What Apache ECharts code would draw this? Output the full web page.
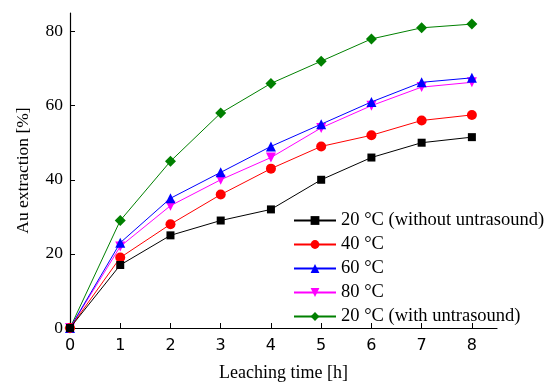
<!DOCTYPE html>
<html>
<head>
<meta charset="utf-8">
<script src="https://cdn.jsdelivr.net/npm/echarts@6/dist/echarts.min.js"></script>
<style>html,body{margin:0;padding:0;background:#fff}#c{width:553px;height:384px}</style>
</head>
<body>
<div id="c"></div>
<script>
const hours = [0, 1, 2, 3, 4, 5, 6, 7, 8];
const names = ['20 °C (without untrasound)', '40 °C', '60 °C', '80 °C', '20 °C (with untrasound)'];
const s20 = [0, 17, 25, 29, 32, 40, 46, 50, 51.5];
const s40 = [0, 19, 28, 36, 43, 49, 52, 56, 57.5];
const s60 = [0, 23, 35, 42, 49, 55, 61, 66.3, 67.5];
const s80 = [0, 22, 33, 40, 46, 54, 60, 65, 66.3];
const s20us = [0, 29, 45, 58, 66, 72, 78, 81, 82];
const xTicks = [0, 1, 2, 3, 4, 5, 6, 7, 8];
const yTicks = [0, 20, 40, 60, 80];

const seriesData = [s20, s40, s60, s80, s20us];
const colors = ['#000000', '#ff0000', '#0000ff', '#ff00ff', '#008000'];
const symbols = ['rect', 'circle', 'triangle', 'path://M0,0 L10,0 L5,10 Z', 'diamond'];
const sizes = [8, 10, 10, 10, 11];

const chart = echarts.init(document.getElementById('c'));
const serif = 'Liberation Serif';
chart.setOption({
  animation: false,
  grid: { left: 70, right: 56, top: 13, bottom: 56, containLabel: false, outerBoundsMode: 'none' },
  legend: {
    orient: 'vertical', left: 288, top: 206, itemWidth: 42, itemHeight: 11, itemGap: 5,
    textStyle: { fontFamily: serif, fontSize: 18.5, color: '#000' },
    data: names
  },
  xAxis: {
    type: 'value', min: 0, max: 8.5, interval: 1,
    name: 'Leaching time [h]', nameLocation: 'middle', nameGap: 36,
    nameTextStyle: { fontFamily: serif, fontSize: 18, color: '#000' },
    axisLine: { lineStyle: { color: '#000', width: 1.2 } },
    axisTick: { inside: true, length: 5, customValues: xTicks, lineStyle: { color: '#000' } },
    axisLabel: { customValues: xTicks, fontFamily: 'DejaVu Sans', fontSize: 16, color: '#000', margin: 10 },
    splitLine: { show: false }
  },
  yAxis: {
    type: 'value', min: 0, max: 85, interval: 20,
    name: 'Au extraction [%]', nameLocation: 'middle', nameGap: 38,
    nameTextStyle: { fontFamily: serif, fontSize: 17.5, color: '#000' },
    axisLine: { show: true, lineStyle: { color: '#000', width: 1.2 } },
    axisTick: { show: true, inside: true, length: 5, customValues: yTicks, lineStyle: { color: '#000' } },
    axisLabel: { customValues: yTicks, fontFamily: serif, fontSize: 17.5, color: '#000', margin: 7 },
    splitLine: { show: false }
  },
  series: seriesData.map((d, i) => ({
    name: names[i], type: 'line',
    data: hours.map((h, j) => [h, d[j]]),
    symbol: symbols[i], symbolSize: sizes[i],
    itemStyle: { color: colors[i] },
    lineStyle: { color: colors[i], width: 1 },
    z: 10 - i
  }))
});
</script>
</body>
</html>
